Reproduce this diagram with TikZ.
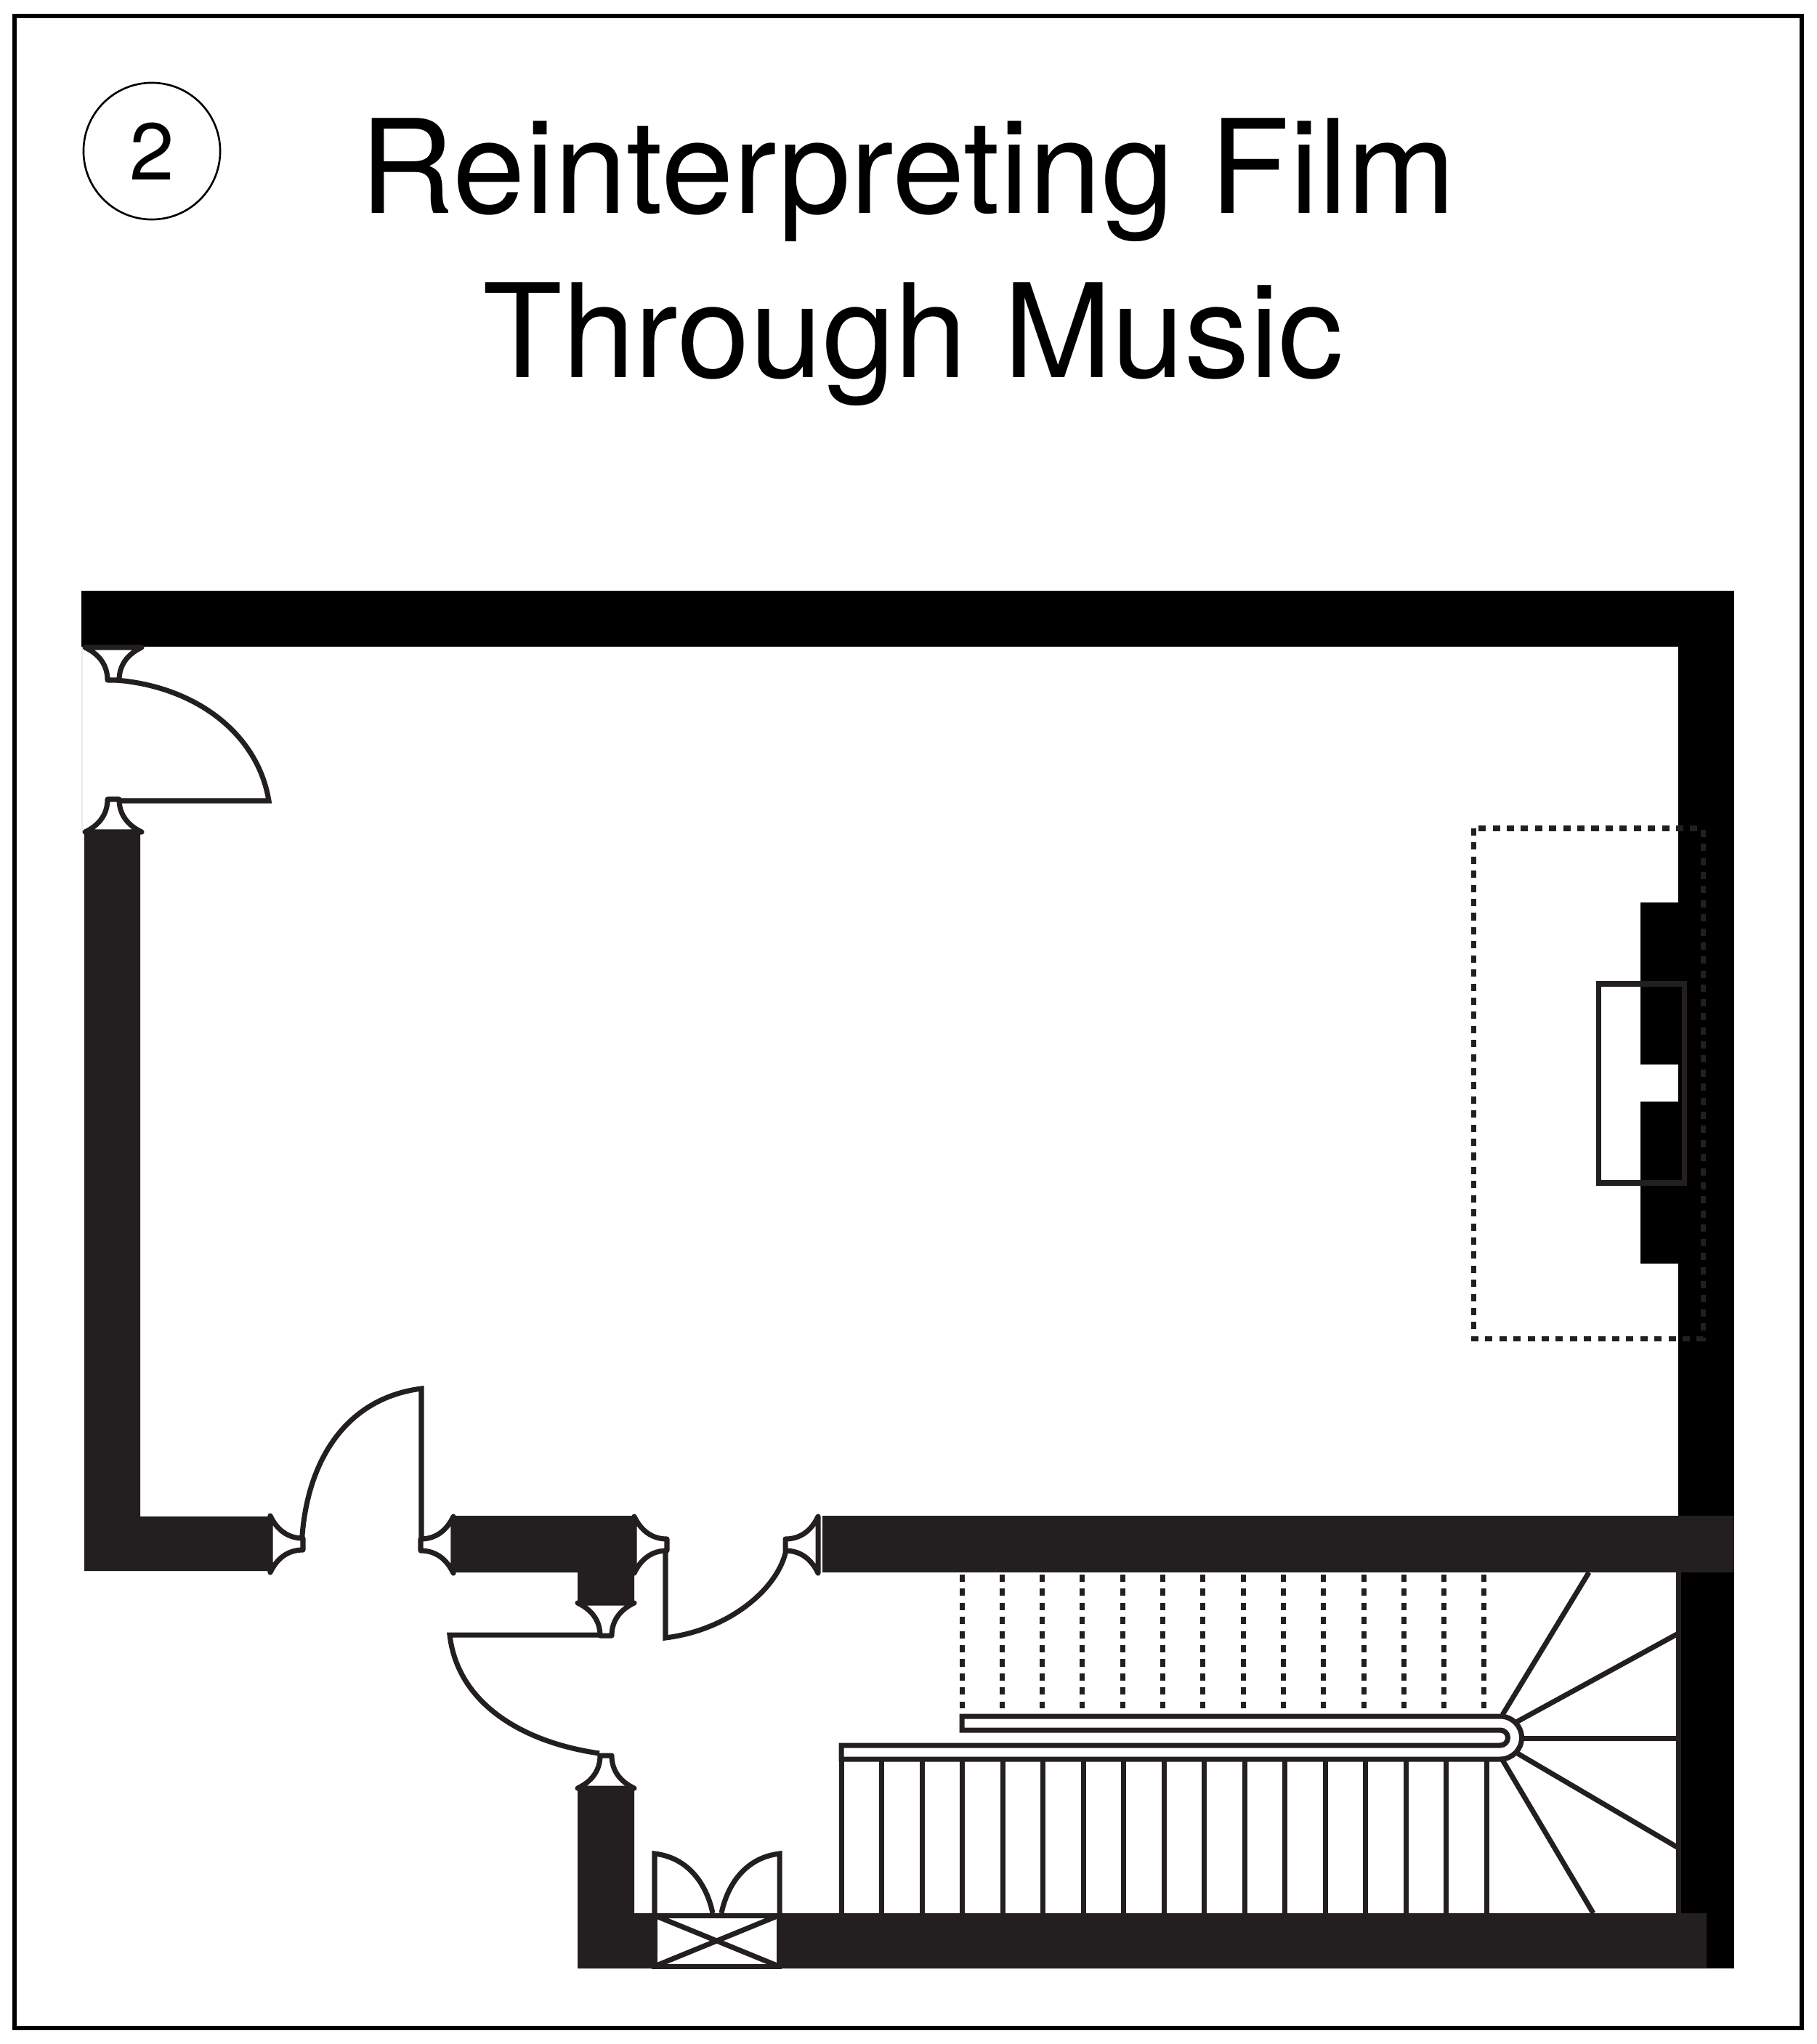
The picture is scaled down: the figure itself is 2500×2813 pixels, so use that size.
\documentclass[tikz,border=0pt]{standalone}
\usepackage{fontspec}
\setmainfont{TeX Gyre Heros}
\definecolor{walldark}{HTML}{231F20}
\tikzset{
  wallblack/.style={fill=black,draw=none},
  walldarkfill/.style={fill=walldark,draw=none},
  planline/.style={draw=walldark,line width=2pt,line join=miter},
  dotline/.style={draw=walldark,line width=2pt,dash pattern=on 2.85pt off 2.67pt},
  titletext/.style={anchor=base,font=\fontsize{51}{64}\selectfont},
  hinge/.pic={
    \draw[planline,fill=white,line join=round]
      (-39,0) .. controls (-20,9) and (-8,24) .. (-8,45) -- (8,45)
      .. controls (8,24) and (20,9) .. (39,0) -- cycle;
  }
}
\begin{document}
\begin{tikzpicture}[x=0.01cm,y=-0.01cm]
\useasboundingbox (0,0) rectangle (2500,2813);
\draw[black,line width=1.7pt] (20,22) rectangle (2480,2791);
\node[circle,draw=black,line width=0.75pt,minimum size=1.88cm,inner sep=0pt,font=\fontsize{31.5}{36}\selectfont] (badge) at (209,208) {2};
\node[titletext] (titleone) at (1250,294) {Reinterpreting Film};
\node[titletext] (titletwo) at (1257,520) {Through Music};
% walls
\fill[wallblack] (112,813) rectangle (2387,890);
\fill[wallblack] (2310,813) rectangle (2387,2709);
\fill[wallblack] (2258,1242) rectangle (2310,1465);
\fill[wallblack] (2258,1516) rectangle (2310,1739);
\fill[walldarkfill] (116,1143) -- (193,1143) -- (193,2087) -- (372,2087) -- (372,2162) -- (116,2162) -- cycle;
\fill[walldarkfill] (627,2086) -- (873,2086) -- (873,2207) -- (795,2207) -- (795,2164) -- (627,2164) -- cycle;
\fill[walldarkfill] (1132,2086) rectangle (2387,2164);
\fill[walldarkfill] (795,2462) -- (873,2462) -- (873,2633) -- (2349,2633) -- (2349,2709) -- (795,2709) -- cycle;
\draw[black!8,line width=0.3pt] (113,890) -- (113,1143);
% doors
\draw[planline] (160,936) .. controls (270,945) and (355,1010) .. (370,1102) -- (150,1102);
\draw[planline] (415,2132) .. controls (418,2020) and (470,1925) .. (580,1911) -- (580,2133);
\draw[planline] (825,2250) -- (619,2250) .. controls (630,2345) and (720,2398) .. (825,2413);
\draw[planline] (916,2125) -- (916,2254) .. controls (1005,2243) and (1072,2185) .. (1082,2133);
\pic at (156,891) {hinge};
\pic[rotate=180] at (156,1145) {hinge};
\pic[rotate=90] at (372,2125) {hinge};
\pic[rotate=-90] at (624,2126) {hinge};
\pic[rotate=90] at (873,2126) {hinge};
\pic[rotate=-90] at (1126,2126) {hinge};
\pic at (834,2206) {hinge};
\pic[rotate=180] at (834,2461) {hinge};
% lift
\draw[planline,fill=white] (901,2636) rectangle (1072,2706);
\draw[planline] (901,2636) -- (1072,2706) (901,2706) -- (1072,2636);
\draw[planline] (901,2633) -- (901,2551) .. controls (945,2556) and (972,2590) .. (981,2633);
\draw[planline] (1073,2633) -- (1073,2551) .. controls (1029,2556) and (1002,2590) .. (993,2633);
% stairs
\foreach \n in {0,...,16}
  \draw[planline] ({1158+55.5*\n},2421) -- ({1158+55.5*\n},2633);
\foreach \n in {0,...,13}
  \draw[dotline] ({1324+55.3*\n},2167) -- ({1324+55.3*\n},2351);
\draw[planline] (2310,2164) -- (2310,2633);
\draw[planline] (2068,2360) -- (2187,2164);
\draw[planline] (2087,2370) -- (2310,2248);
\draw[planline] (2097,2392) -- (2310,2392);
\draw[planline] (2087,2412) -- (2310,2543);
\draw[planline] (2068,2422) -- (2193,2633);
\draw[planline] (1324,2381) -- (1324,2362) -- (2065,2362) arc[start angle=-90,end angle=90,radius=29.5] -- (1158,2421) -- (1158,2402) -- (2065,2402) arc[start angle=90,end angle=-90,radius=10.5] -- cycle;
% fireplace
\draw[planline] (2200,1354) rectangle (2318,1628);
\draw[dotline] (2028,1140) rectangle (2344,1842);
\end{tikzpicture}
\end{document}
